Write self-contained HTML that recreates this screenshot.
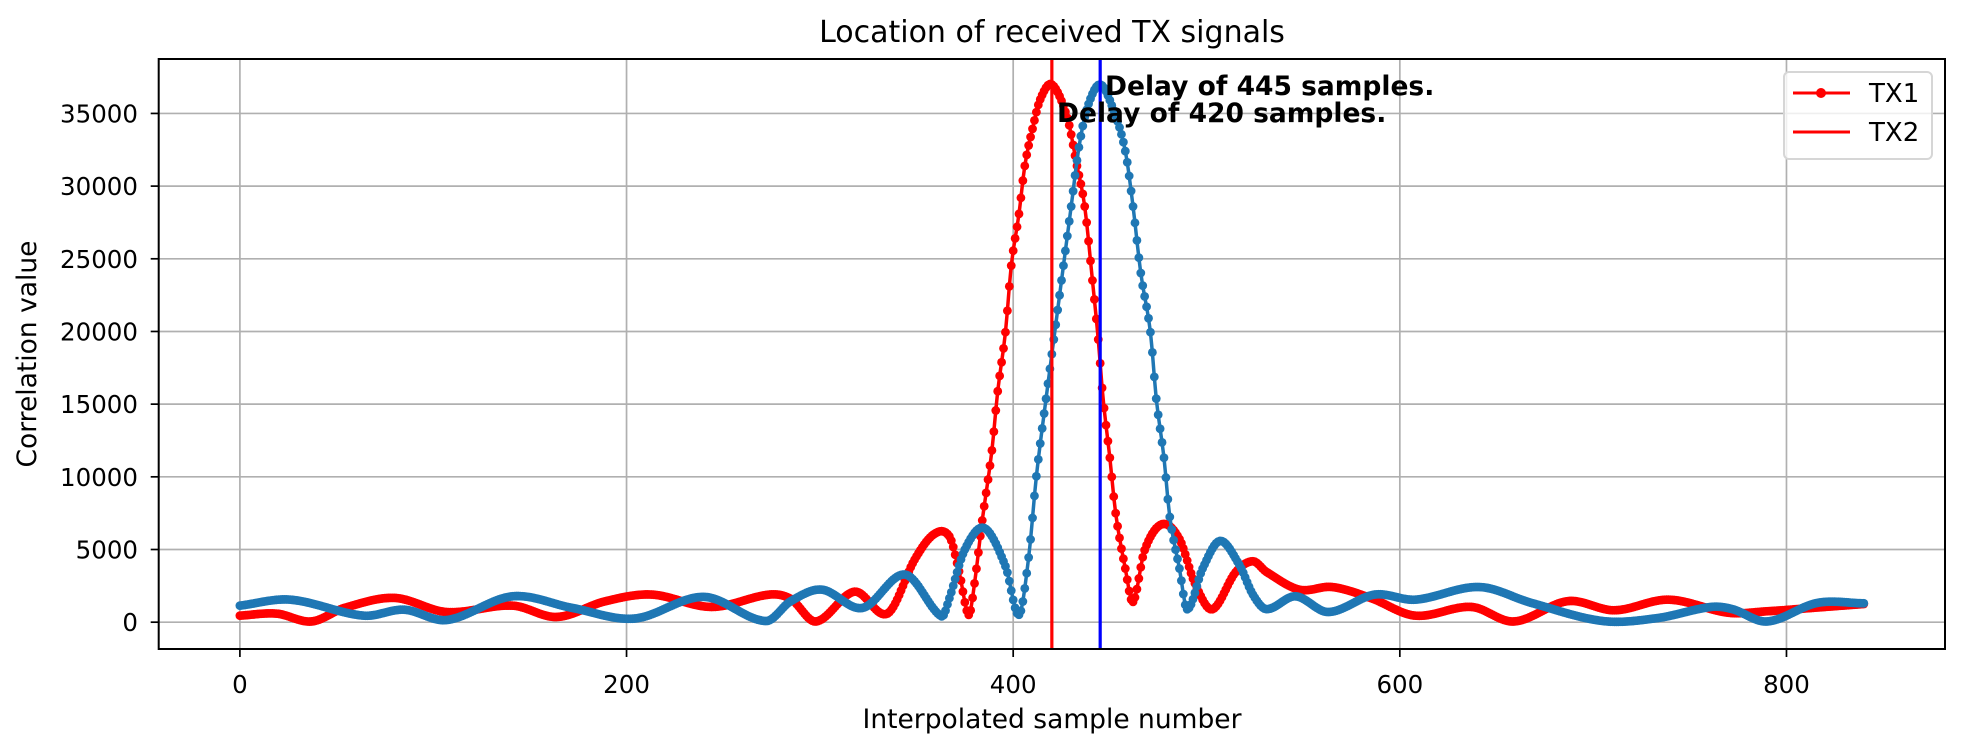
<!DOCTYPE html>
<html><head><meta charset="utf-8"><style>
html,body{margin:0;padding:0;background:#fff;}
svg{display:block;font-family:"DejaVu Sans","Liberation Sans",sans-serif;}
</style></head><body>
<svg id="chart" width="1963" height="751" viewBox="0 0 1963 751">
<rect x="0" y="0" width="1963" height="751" fill="#fff"/>
<g id="grid"></g>
<g id="series"></g>
<g id="axes"></g>
<text x="1052" y="42" text-anchor="middle" font-size="30">Location of received TX signals</text>
<text x="1052" y="728" text-anchor="middle" font-size="26.5">Interpolated sample number</text>
<text transform="translate(36,354) rotate(-90)" text-anchor="middle" font-size="26.5">Correlation value</text>
<g>
<rect x="1784" y="72" width="148" height="87" rx="5" fill="#fff" fill-opacity="0.8" stroke="#d6d6d6" stroke-width="2"/>
<g>
<line x1="1793" y1="93" x2="1850" y2="93" stroke="#ff0000" stroke-width="3"/>
<circle cx="1821" cy="93" r="5" fill="#ff0000"/>
<text x="1869" y="102" font-size="26">TX1</text></g>
<g>
<line x1="1793" y1="132" x2="1850" y2="132" stroke="#ff0000" stroke-width="3"/>
<text x="1869" y="141" font-size="26">TX2</text></g>
</g>
</svg>
<script>
const xTicks = [0, 200, 400, 600, 800];
const yTicks = [0, 5000, 10000, 15000, 20000, 25000, 30000, 35000];
const tx1X = [0,19,37,54,80,107,141,164,189,213,244,274,285,298,318,335,349,359,367,372,377,380,384,389,392,396,399,403,406,410,414,420,428,433,437,441,444,446.5,450,453,458,462,468,477,486,494,503,515,524,531,548,565,585,608,637,659,687,711,739,770,790,815,840];
const tx1Y = [450,590,50,980,1670,700,1140,360,1440,1900,1050,1900,1600,50,2100,600,4300,6050,5900,3500,500,2670,7000,11820,15890,19950,24530,28090,31390,33940,35970,36990,34700,31390,28600,23510,19450,15380,11310,7500,3690,1400,4960,6740,5720,2670,890,3430,4190,3460,2240,2420,1660,450,1050,50,1450,820,1550,650,750,1000,1250];
const tx2X = [0,26,64,85,107,141,172,204,240,272,285,301,322,344,363,367,375,385,396,403,408,412,417.5,422,426,430,434,438.5,445,452,458,462,466,471,474,478,481,486,490,498,507,517,524,531,546,563,587,608,641,668,705,733,761,772,790,816,840];
const tx2Y = [1140,1550,450,860,150,1780,980,250,1740,80,1450,2240,980,3280,400,1650,5000,6480,3850,510,4450,10040,15890,20460,24530,28600,32670,35460,36990,35200,32410,28600,24020,19950,15380,11310,7240,3690,890,3690,5590,3940,1900,900,1780,700,1900,1550,2420,1330,80,280,1050,900,50,1330,1300];
const delays = [445, 420];
const delayColors = ['#0000ff', '#ff0000'];

const PL = 158.7, PR = 1945, PT = 59, PB = 649;
const X0 = -42, X1 = 882, Y0 = -1845, Y1 = 38745;
function sx(v){ return PL + (v - X0) / (X1 - X0) * (PR - PL); }
function sy(v){ return PB - (v - Y0) / (Y1 - Y0) * (PB - PT); }
const NS = 'http://www.w3.org/2000/svg';
function mk(tag, attrs, parent){
  const e = document.createElementNS(NS, tag);
  for (const k in attrs) e.setAttribute(k, attrs[k]);
  parent.appendChild(e); return e;
}
const grid = document.getElementById('grid');
const axes = document.getElementById('axes');
const series = document.getElementById('series');

xTicks.forEach(t => {
  const g = mk('line', {x1: sx(t), x2: sx(t), y1: PT, y2: PB, stroke: '#b0b0b0', 'stroke-width': 1.7}, grid);
  
  
  const tk = mk('line', {x1: sx(t), x2: sx(t), y1: PB, y2: PB + 8, stroke: '#000', 'stroke-width': 1.7}, axes);
  
  
  const lb = mk('text', {x: sx(t), y: 693, 'text-anchor': 'middle', 'font-size': 24.5}, axes);
  lb.textContent = t;
  
  
});
yTicks.forEach(t => {
  const g = mk('line', {x1: PL, x2: PR, y1: sy(t), y2: sy(t), stroke: '#b0b0b0', 'stroke-width': 1.7}, grid);
  
  
  const tk = mk('line', {x1: PL - 8, x2: PL, y1: sy(t), y2: sy(t), stroke: '#000', 'stroke-width': 1.7}, axes);
  
  
  const lb = mk('text', {x: 138, y: sy(t) + 9, 'text-anchor': 'end', 'font-size': 24.5}, axes);
  lb.textContent = t;
  
  
});
const frame = mk('rect', {x: PL, y: PT, width: PR - PL, height: PB - PT, fill: 'none', stroke: '#000', 'stroke-width': 2}, axes);



// cubic Hermite evaluation through the read data points (rendering only)
function evalAt(xs, ys, s){
  let i = 0;
  while (i < xs.length - 2 && s > xs[i + 1]) i++;
  const n = xs.length;
  function tan(k){
    const a = Math.max(0, k - 1), b = Math.min(n - 1, k + 1);
    return (ys[b] - ys[a]) / (xs[b] - xs[a]);
  }
  const h = xs[i + 1] - xs[i];
  const t = Math.min(1, Math.max(0, (s - xs[i]) / h));
  const t2 = t * t, t3 = t2 * t;
  return (2*t3 - 3*t2 + 1) * ys[i] + (t3 - 2*t2 + t) * h * tan(i) + (-2*t3 + 3*t2) * ys[i + 1] + (t3 - t2) * h * tan(i + 1);
}
function drawSeries(xs, ys, color, name){
  const g = mk('g', {}, series);
  
  
  const pts = [];
  for (let s = xs[0]; s <= xs[xs.length - 1]; s++) pts.push([sx(s), sy(evalAt(xs, ys, s))]);
  const l = mk('polyline', {points: pts.map(p => p[0].toFixed(2) + ',' + p[1].toFixed(2)).join(' '), fill: 'none', stroke: color, 'stroke-width': 3.5, 'stroke-linejoin': 'round'}, g);
  
  
  const mg = mk('g', {fill: color}, g);
  
  
  pts.forEach(p => {
    const c = mk('circle', {cx: p[0].toFixed(2), cy: p[1].toFixed(2), r: 4.4}, mg);
    
    
  });
}
drawSeries(tx1X, tx1Y, '#ff0000', 'tx1-series');
drawSeries(tx2X, tx2Y, '#1f77b4', 'tx2-series');

delays.forEach((dv, i) => {
  const l = mk('line', {x1: sx(dv), x2: sx(dv), y1: PT, y2: PB, stroke: delayColors[i], 'stroke-width': 3.2}, series);
  
  
});
const ann = [[1105, 95, 'Delay of 445 samples.'], [1057, 122, 'Delay of 420 samples.']];
ann.forEach(a => {
  const t = mk('text', {x: a[0], y: a[1], 'font-size': 26.5, 'font-weight': 'bold'}, series);
  t.textContent = a[2];
  
  
});
</script>
</body></html>
